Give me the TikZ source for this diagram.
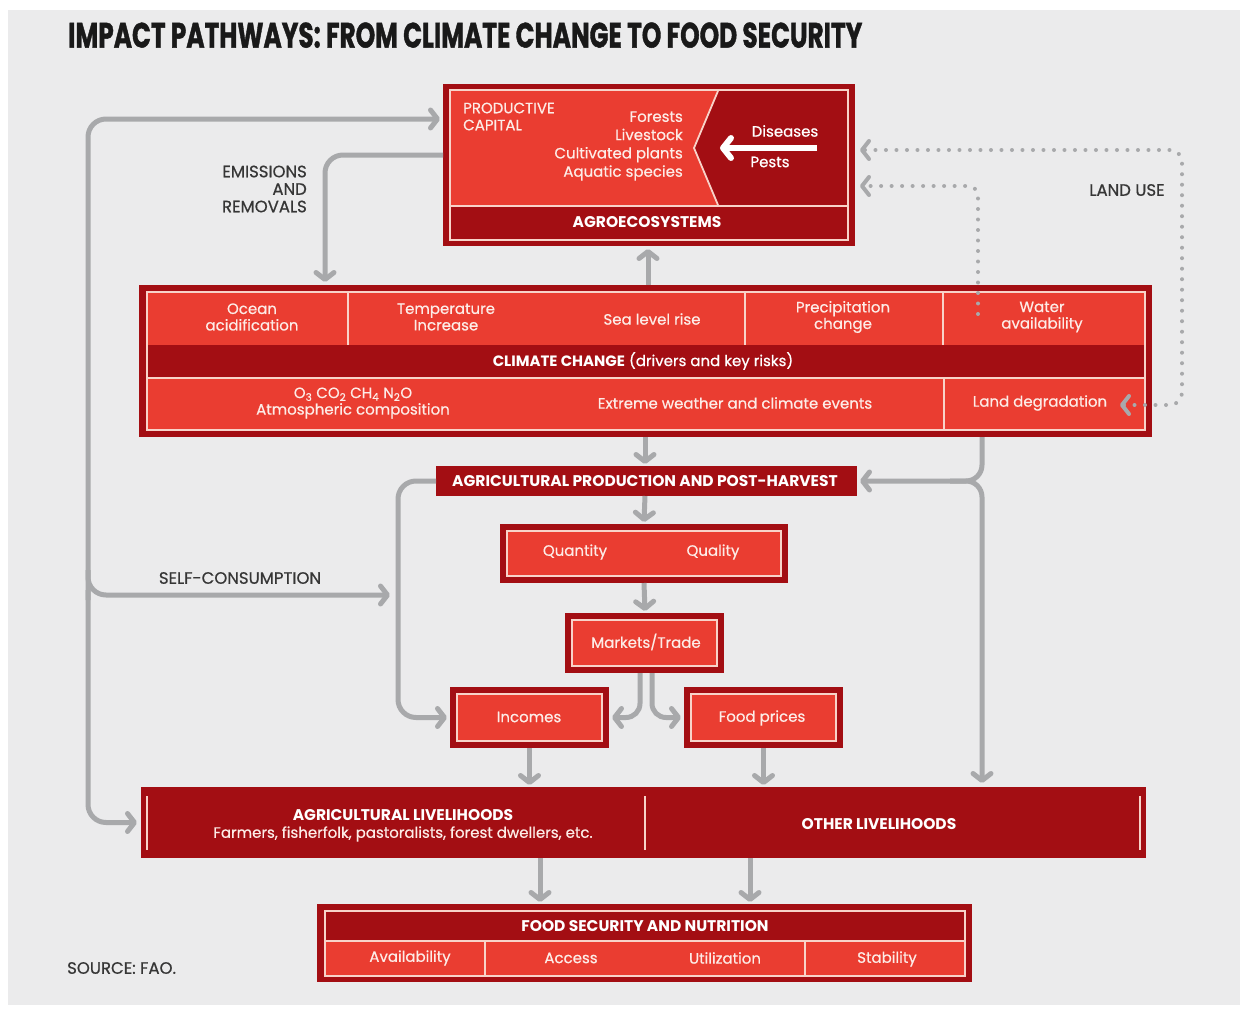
\documentclass[tikz,border=0pt]{standalone}
\usepackage{fontspec}
\usepackage{graphicx}
\setmainfont{Poppins}
\newfontfamily\bodyfont{Poppins}[FakeBold=0.6]
\newfontfamily\titlefont{Poppins}[FakeBold=1.5]
\usetikzlibrary{arrows.meta}
\definecolor{dred}{HTML}{A30E13}
\definecolor{lred}{HTML}{EA3D31}
\definecolor{lline}{HTML}{F8D3C9}
\definecolor{btext}{HTML}{FDECE7}
\definecolor{cgray}{HTML}{A8A9AB}
\definecolor{bgc}{HTML}{EBEBEC}
\definecolor{lgray}{HTML}{363636}
\newcommand\myinner[1]{\filldraw[ll, fill=lred] ([shift={(7,7)}]#1.north west) rectangle ([shift={(-7,-7)}]#1.south east);}
\begin{document}
\begin{tikzpicture}[x=1pt,y=-1pt,
  box/.style={fill=dred, draw=none, inner sep=0pt, outer sep=0pt},
  ll/.style={draw=lline, line width=1.8pt},
  btxt/.style={text=btext, font=\bodyfont\fontsize{15}{16.5}\selectfont, align=center, inner sep=0pt},
  rtxt/.style={text=btext, font=\bodyfont\fontsize{15}{18.3}\selectfont, align=right, inner sep=0pt},
  htxt/.style={text=white, font=\bfseries\fontsize{15.5}{17}\selectfont, align=center, inner sep=0pt},
  lbl/.style={text=lgray, font=\bodyfont\fontsize{16.5}{17.5}\selectfont, inner sep=0pt},
  mytip/.tip={Straight Barb[length=7pt,width=18pt,round]},
  conn/.style={draw=cgray, line width=5pt, -mytip},
  dconn/.style={draw=cgray, line width=4pt, line cap=round, dash pattern=on 0pt off 10.5pt},
]
\useasboundingbox (0,0) rectangle (1243,1009);
\fill[white] (0,0) rectangle (1243,1009);
\fill[bgc] (8,10) rectangle (1240,1005);

% title
\node[anchor=south west, inner sep=0pt, text=black!90] (title) at (68,48)
  {\resizebox{794pt}{25pt}{\titlefont\bfseries IMPACT PATHWAYS: FROM CLIMATE CHANGE TO FOOD SECURITY}};

% ---------- Agroecosystems ----------
\node[box, minimum width=412, minimum height=162] (agro) at (649,165) {};
\fill[lred] (451,91) -- (718,91) -- (694,148) -- (718,205) -- (451,205) -- cycle;
\draw[ll] (450,90) rectangle (848,240);
\draw[ll] (718,91) -- (694,148) -- (718,205);
\draw[ll] (450,206) -- (848,206);
\node[text=btext, font=\bodyfont\fontsize{15}{17}\selectfont, align=left, inner sep=0pt, anchor=west] (pc) at (463,116.5) {PRODUCTIVE\\CAPITAL};
\node[rtxt, anchor=east] (flist) at (683,146) {Forests\\Livestock\\Cultivated plants\\Aquatic species};
\node[btxt, text=white] (dis) at (785,131) {Diseases};
\node[btxt, text=white] (pests) at (770,162) {Pests};
\draw[white, line width=6pt, -{Straight Barb[length=8pt,width=20pt,round]}] (817,148) -- (720,148);
\node[htxt] (agrot) at (647,222) {AGROECOSYSTEMS};

% ---------- Climate change ----------
\node[box, minimum width=1013, minimum height=152] (cc) at (645.5,361) {};
\fill[lred] (148,293) rectangle (1144,345);
\fill[lred] (148,379) rectangle (1144,429);
\draw[ll] (147,292) rectangle (1145,430);
\draw[ll] (147,378) -- (1145,378);
\draw[ll] (348,293) -- (348,345);
\draw[ll] (745,293) -- (745,345);
\draw[ll] (943,293) -- (943,345);
\draw[ll] (944,379) -- (944,429);
\node[btxt] (oa) at (252,317) {Ocean\\acidification};
\node[btxt] (ti) at (446,317) {Temperature\\Increase};
\node[btxt] (sl) at (652,319) {Sea level rise};
\node[btxt] (pcg) at (843,317) {Precipitation\\change};
\node[btxt] (wa) at (1042,317) {Water\\availability};
\node[btxt, text=white] (cct) at (643,361) {{\fontspec{Poppins}\bfseries CLIMATE CHANGE} (drivers and key risks)};
\node[btxt] (atm) at (353,403) {O\textsubscript{3} CO\textsubscript{2} CH\textsubscript{4} N\textsubscript{2}O\\Atmospheric composition};
\node[btxt] (ew) at (735,403) {Extreme weather and climate events};
\node[btxt] (ld) at (1040,403) {Land degradation};
\coordinate (wadot) at (978,314);

% ---------- Agricultural production ----------
\node[box, minimum width=421, minimum height=30] (agp) at (646.5,481) {};
\node[htxt] (agpt) at (645,481) {AGRICULTURAL PRODUCTION AND POST-HARVEST};

% ---------- Quantity / Quality ----------
\node[box, minimum width=288, minimum height=59] (qq) at (644,553.5) {};
\myinner{qq}
\node[btxt] (qt) at (575,552) {Quantity};
\node[btxt] (ql) at (713,552) {Quality};

% ---------- Markets ----------
\node[box, minimum width=159, minimum height=60] (mk) at (644.5,643) {};
\myinner{mk}
\node[btxt] (mkt) at (646,642) {Markets/Trade};

% ---------- Incomes / Food prices ----------
\node[box, minimum width=159, minimum height=61] (inc) at (529.5,717.5) {};
\myinner{inc}
\node[btxt] (inct) at (529,717) {Incomes};
\node[box, minimum width=159, minimum height=61] (fp) at (763.5,717.5) {};
\myinner{fp}
\node[btxt] (fpt) at (762,718) {Food prices};

% ---------- Livelihoods ----------
\node[box, minimum width=1005, minimum height=71] (liv) at (643.5,822.5) {};
\draw[ll] (147,796) -- (147,850);
\draw[ll] (645,796) -- (645,850);
\draw[ll] (1140,796) -- (1140,850);
\node[htxt] (agl) at (403,815) {AGRICULTURAL LIVELIHOODS};
\node[btxt] (aglt) at (403,834) {Farmers, fisherfolk, pastoralists, forest dwellers, etc.};
\node[htxt] (otl) at (879,824) {OTHER LIVELIHOODS};

% ---------- Food security ----------
\node[box, minimum width=655, minimum height=78] (fs) at (644.5,943) {};
\fill[lred] (326,942) rectangle (964,975);
\draw[ll] (325,911) rectangle (965,976);
\draw[ll] (325,941) -- (965,941);
\draw[ll] (485,942) -- (485,975);
\draw[ll] (805,942) -- (805,975);
\node[htxt] (fst) at (645,926) {FOOD SECURITY AND NUTRITION};
\node[btxt] (av) at (410,958) {Availability};
\node[btxt] (ac) at (571,958) {Access};
\node[btxt] (ut) at (725,958) {Utilization};
\node[btxt] (st) at (887,959) {Stability};

% ---------- labels ----------
\node[lbl, align=right, anchor=east] (emis) at (307,189) {EMISSIONS\\AND\\REMOVALS};
\node[lbl] (selfc) at (240,578) {SELF-CONSUMPTION};
\node[lbl] (landuse) at (1127,190) {LAND USE};
\node[lbl, anchor=west] (src) at (67,968) {SOURCE: FAO.};
\coordinate (sc) at (390,595);

% ---------- connectors ----------
\draw[conn, rounded corners=18] (88,600) |- ([shift={(-3,35)}]agro.north west);
\draw[conn, rounded corners=18] (88,590) |- ([xshift=-4]liv.west);
\draw[conn, rounded corners=18] (88,570) |- (sc);
\draw[conn, rounded corners=18] ([shift={(0,-10)}]agro.west) -| ([shift={(-320.5,-3)}]cc.north);
\draw[conn] ([xshift=2.5]cc.north) -- ([shift={(-1,3)}]agro.south);
\draw[conn] ([xshift=-0.5]cc.north |- cc.south) -- ([shift={(-1.5,-2)}]agp.north);
\draw[conn, rounded corners=16] ([xshift=336.5]cc.south) -- (982,481) -- ([xshift=3]agp.east);
\draw[conn, rounded corners=16] (950,481) -- (982,481) -- ([shift={(338.5,-4)}]liv.north);
\draw[conn, rounded corners=18] (agp.west) -- (398,481) -- (398,717.5) -- ([xshift=-3]inc.west);
\draw[conn] ([xshift=-1.5]agp.south) -- ([shift={(0,-2)}]qq.north);
\draw[conn] (qq.south) -- ([shift={(0.5,-2)}]mk.north);
\draw[conn, rounded corners=14] ([xshift=-4.5]mk.south) |- ([xshift=3]inc.east);
\draw[conn, rounded corners=14] ([xshift=7.5]mk.south) |- ([xshift=-3]fp.west);
\draw[conn] (inc.south) -- ([shift={(-114,-2)}]liv.north);
\draw[conn] (fp.south) -- ([shift={(120,-2)}]liv.north);
\draw[conn] ([xshift=-103.5]liv.south) -- ([shift={(-104.5,-2)}]fs.north);
\draw[conn] ([xshift=106.5]liv.south) -- ([shift={(105.5,-2)}]fs.north);
\draw[dconn, mytip-mytip, rounded corners=12] ([shift={(-32,44)}]cc.east) -- (1182,405) -- (1182,150) -- ([shift={(5,-15)}]agro.east);
\draw[dconn, -mytip, rounded corners=10] (wadot) -- (978,186) -- ([shift={(5,21)}]agro.east);
\end{tikzpicture}
\end{document}
